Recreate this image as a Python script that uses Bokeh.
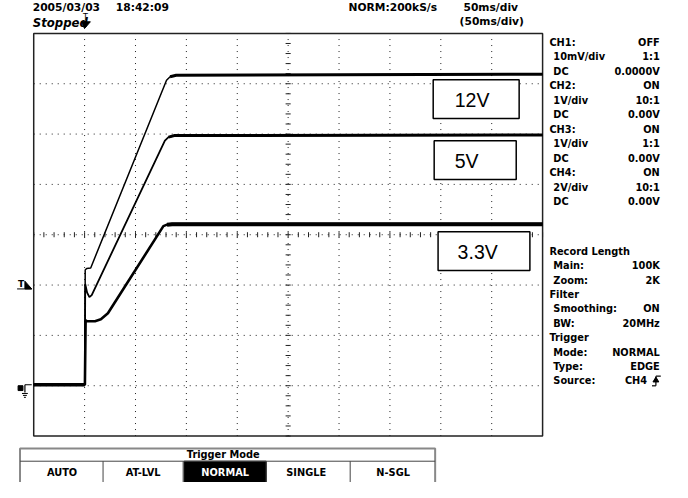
import numpy as np
from bokeh.plotting import figure
from bokeh.models import Range1d
from bokeh.core.properties import value
from bokeh.embed import file_html
from bokeh.resources import INLINE

# ---------------- data (time in ms, level in divisions from screen centre) ----------------
t_12v = [-50, 0.3, 0.6, 2.0, 6.0, 80.5, 84.0, 90.0, 450]
y_12v = [-2.98, -2.98, -0.70, -0.67, -0.66, 3.07, 3.14, 3.17, 3.19]

t_5v = [-50, 0.3, 0.6, 2.5, 4.7, 7.0, 78.9, 82.5, 88.0, 450]
y_5v = [-2.98, -2.98, -0.98, -1.15, -1.24, -1.20, 1.87, 1.94, 1.97, 1.98]

t_33v = [-50, 0.3, 1.0, 2.1, 10.2, 16.0, 22.9, 77.4, 81.0, 86.0, 450]
y_33v = [-2.98, -2.98, -1.70, -1.72, -1.72, -1.68, -1.56, 0.17, 0.20, 0.21, 0.21]

rail_labels = ["12V", "5V", "3.3V"]

ch_labels = ["CH1:", "10mV/div", "DC", "CH2:", "1V/div", "DC", "CH3:", "1V/div", "DC", "CH4:", "2V/div", "DC"]
ch_values = ["OFF", "1:1", "0.0000V", "ON", "10:1", "0.00V", "ON", "1:1", "0.00V", "ON", "10:1", "0.00V"]
ch_indent = [0, 1, 1, 0, 1, 1, 0, 1, 1, 0, 1, 1]

info_labels = ["Record Length", "Main:", "Zoom:", "Filter", "Smoothing:", "BW:", "Trigger", "Mode:", "Type:", "Source:"]
info_values = ["", "100K", "2K", "", "ON", "20MHz", "", "NORMAL", "EDGE", ""]
info_indent = [0, 1, 1, 0, 1, 1, 0, 1, 1, 1]

menu_title = "Trigger Mode"
menu_buttons = ["AUTO", "AT-LVL", "NORMAL", "SINGLE", "N-SGL"]

# ---------------- layout helpers (reference pixel -> data) ----------------
W, H = 672, 482
REF_W, REF_H = 688, 498


def X(px):
    return (px - 86.1) / 1.042      # ms


def Y(py):
    return (242.0 - py) / 52.0      # divisions


p = figure(width=W, height=H, output_backend="svg", toolbar_location=None,
           x_range=Range1d(X(0), X(REF_W)), y_range=Range1d(Y(REF_H), Y(0)),
           x_axis_type=None, y_axis_type=None,
           min_border_left=0, min_border_right=0, min_border_top=0, min_border_bottom=0)
p.grid.visible = False
p.outline_line_color = None
p.background_fill_color = "white"
p.border_fill_color = "white"

# ---------------- graticule ----------------
gx = np.arange(0, 401, 50)
p.segment(x0=gx, y0=-4, x1=gx, y1=4, line_color="#222", line_width=1, line_dash="1 5")
gy = np.arange(-3, 4, 1)
p.segment(x0=-50, y0=gy, x1=450, y1=gy, line_color="#222", line_width=1, line_dash="1 5")
tx = np.arange(-50, 451, 10)
p.segment(x0=tx, y0=-0.05, x1=tx, y1=0.05, line_color="#222", line_width=1)
ty = np.arange(-4, 4.01, 0.2)
p.segment(x0=200 - 2.5, y0=ty, x1=200 + 2.5, y1=ty, line_color="#222", line_width=1)
p.quad(left=-50, right=450, bottom=-4, top=4, fill_color=None, line_color="#222", line_width=1.5)

# ---------------- traces ----------------
p.line(t_12v, y_12v, line_color="black", line_width=1.5)
p.line(t_5v, y_5v, line_color="black", line_width=1.8)
p.line(t_33v, y_33v, line_color="black", line_width=2.6)
p.line(t_12v[6:], y_12v[6:], line_color="black", line_width=3)
p.line(t_5v[7:], y_5v[7:], line_color="black", line_width=3)
p.line(t_33v[8:], y_33v[8:], line_color="black", line_width=4)
p.line(t_33v[:2], y_33v[:2], line_color="black", line_width=3.5)

# ---------------- rail label boxes ----------------
p.quad(left=[X(443), X(444), X(448)], right=[X(531), X(528), X(542)],
       top=[Y(82), Y(145), Y(239)], bottom=[Y(122), Y(185), Y(279)],
       fill_color="white", line_color="black", line_width=1.5)
p.text(x=[X(465), X(465), X(468)], y=[Y(103), Y(166), Y(260)], text=rail_labels,
       text_font=value("Liberation Sans"), text_font_size="19.5px",
       text_baseline="middle", text_align="left", text_color="black")

# ---------------- header ----------------
hdr = dict(text_font=value("DejaVu Sans"), text_font_style="bold", text_font_size="10.7px",
           text_baseline="middle", text_color="black")
p.text(x=[X(33)], y=[Y(7)], text=["2005/03/03"], text_align="left", **hdr)
p.text(x=[X(118)], y=[Y(7)], text=["18:42:09"], text_align="left", **hdr)
p.text(x=[X(447)], y=[Y(7)], text=["NORM:200kS/s"], text_align="right", **hdr)
p.text(x=[X(474)], y=[Y(7)], text=["50ms/div"], text_align="left", **hdr)
p.text(x=[X(470)], y=[Y(22)], text=["(50ms/div)"], text_align="left", **hdr)
p.text(x=[X(33)], y=[Y(23.5)], text=["Stopped"], text_align="left",
       text_font=value("DejaVu Sans"), text_font_style="bold italic", text_font_size="11.7px",
       text_baseline="middle", text_color="black")
# trigger position marker
p.text(x=[X(87)], y=[Y(18)], text=["T"], text_align="center", text_baseline="middle",
       text_font=value("DejaVu Sans"), text_font_size="8px", text_color="black")
p.patch(x=[X(83), X(92), X(86)], y=[Y(22), Y(22), Y(29)], fill_color="black", line_color="black")

# ---------------- left markers ----------------
p.text(x=[X(21)], y=[Y(293)], text=["T"], text_align="center", text_baseline="middle",
       text_font=value("DejaVu Sans"), text_font_style="bold", text_font_size="9px", text_color="black")
p.patch(x=[X(25), X(25), X(32)], y=[Y(290), Y(298), Y(298)], fill_color="black", line_color="black")
p.segment(x0=X(17), y0=Y(298), x1=X(32), y1=Y(298), line_color="black", line_width=1)
p.quad(left=X(18), right=X(23), top=Y(398), bottom=Y(403), fill_color="black", line_color="black")
p.segment(x0=[X(25), X(25)], y0=[Y(397), Y(397)], x1=[X(25), X(32)], y1=[Y(405), Y(397)],
          line_color="black", line_width=1.2)
p.segment(x0=[X(22), X(23), X(24)], y0=[Y(406), Y(408), Y(410)],
          x1=[X(28), X(27), X(26)], y1=[Y(406), Y(408), Y(410)], line_color="black", line_width=1)

# ---------------- side panel ----------------
side = dict(text_font=value("DejaVu Sans"), text_font_style="bold", text_font_size="9.8px",
            text_baseline="middle", text_color="black")
ch_y = [Y(43 + 15 * i) for i in range(len(ch_labels))]
p.text(x=[X(562 + 4 * k) for k in ch_indent], y=ch_y, text=ch_labels, text_align="left", **side)
p.text(x=[X(675)] * len(ch_values), y=ch_y, text=ch_values, text_align="right", **side)
info_y = [Y(259 + 14.9 * i) for i in range(len(info_labels))]
p.text(x=[X(562 + 4 * k) for k in info_indent], y=info_y, text=info_labels, text_align="left", **side)
p.text(x=[X(675)] * len(info_values), y=info_y, text=info_values, text_align="right", **side)
p.text(x=[X(662)], y=[info_y[-1]], text=["CH4"], text_align="right", **side)
# rising-edge symbol
ys = 259 + 14.9 * 9
p.segment(x0=[X(667), X(671), X(671)], y0=[Y(ys + 5), Y(ys + 5), Y(ys - 5)],
          x1=[X(671), X(671), X(676)], y1=[Y(ys + 5), Y(ys - 5), Y(ys - 5)],
          line_color="black", line_width=1.2)
p.patch(x=[X(668), X(674), X(671)], y=[Y(ys + 1), Y(ys + 1), Y(ys - 4)], fill_color="black", line_color="black")

# ---------------- bottom menu ----------------
p.quad(left=X(188), right=X(272), top=Y(476), bottom=Y(505), fill_color="black", line_color="black")
p.quad(left=X(20), right=X(445), top=Y(463), bottom=Y(505), fill_color=None, line_color="#888", line_width=2)
p.segment(x0=X(20), y0=Y(476), x1=X(445), y1=Y(476), line_color="#444", line_width=1)
sx = [X(105), X(187), X(272), X(358)]
p.segment(x0=sx, y0=Y(476), x1=sx, y1=Y(505), line_color="#444", line_width=1)
menu = dict(text_font=value("DejaVu Sans"), text_font_style="bold", text_font_size="9.8px",
            text_baseline="middle", text_align="center")
p.text(x=[X(228)], y=[Y(469.5)], text=[menu_title], text_color="black", **menu)
bx = [X(63), X(146), X(230), X(313), X(402)]
p.text(x=bx, y=[Y(488)] * 5, text=menu_buttons,
       text_color=["black", "black", "white", "black", "black"], **menu)

open("out.html", "w").write(file_html(p, INLINE))
